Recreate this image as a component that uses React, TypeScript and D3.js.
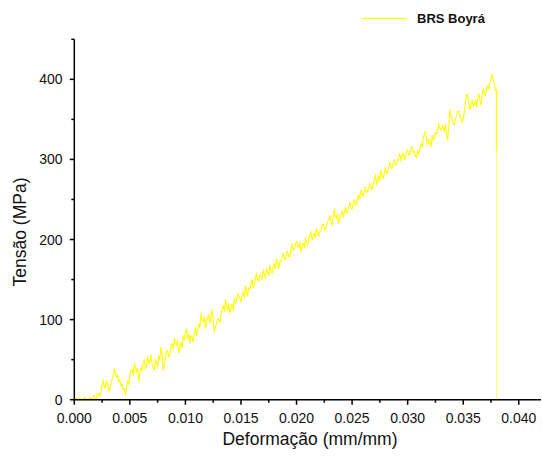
import React from "react";
import * as d3 from "d3";

// Tensile test samples, read every 0.0001 mm/mm of strain from 0 to 0.0380
const strainStep = 0.0001;
const stress: number[] = [
  0, 1, 3, 0, 0, 2, 1, 0, 0, 3,
  2, 0, 0, 1, 3, 0, 1, 4, 5, 1,
  2, 8, 6, 4, 10, 18, 25, 14, 16, 23,
  20, 10, 14, 19, 26, 30, 39, 33, 28, 31,
  22, 25, 17, 20, 12, 14, 6, 15, 24, 19,
  31, 36, 38, 30, 45, 40, 34, 39, 22, 33,
  40, 36, 45, 50, 38, 44, 54, 45, 48, 56,
  44, 40, 37, 50, 46, 41, 55, 49, 66, 58,
  37, 44, 52, 60, 62, 53, 56, 64, 70, 63,
  77, 70, 68, 74, 58, 66, 72, 64, 80, 74,
  83, 88, 76, 82, 71, 80, 78, 72, 83, 90,
  80, 87, 95, 90, 108, 100, 97, 104, 89, 98,
  102, 106, 96, 104, 112, 100, 85, 92, 94, 101,
  100, 96, 107, 113, 118, 110, 125, 117, 112, 120,
  108, 114, 119, 112, 126, 120, 125, 132, 131, 126,
  122, 130, 135, 128, 142, 136, 130, 140, 138, 145,
  150, 140, 143, 152, 158, 150, 148, 156, 155, 150,
  162, 156, 152, 163, 160, 155, 168, 162, 158, 166,
  170, 163, 176, 170, 164, 173, 172, 178, 183, 176,
  175, 182, 186, 178, 179, 188, 195, 186, 188, 194,
  198, 192, 190, 197, 184, 191, 196, 189, 202, 197,
  193, 200, 205, 210, 199, 204, 208, 202, 214, 208,
  204, 210, 212, 217, 220, 214, 211, 218, 222, 226,
  230, 222, 218, 228, 238, 230, 226, 232, 220, 227,
  232, 236, 228, 234, 240, 233, 235, 242, 246, 240,
  238, 244, 250, 243, 244, 252, 256, 250, 262, 257,
  254, 260, 266, 259, 260, 265, 270, 264, 262, 270,
  275, 281, 268, 274, 280, 273, 286, 280, 276, 284,
  290, 282, 284, 291, 296, 290, 289, 296, 300, 293,
  294, 300, 302, 308, 298, 304, 308, 300, 303, 310,
  312, 305, 306, 314, 316, 309, 310, 304, 302, 311,
  306, 313, 320, 315, 326, 332, 335, 324, 318, 325,
  322, 316, 330, 324, 326, 334, 332, 338, 345, 338,
  336, 342, 340, 335, 344, 330, 324, 343, 362, 354,
  350, 345, 343, 350, 355, 361, 360, 354, 352, 346,
  349, 360, 370, 382, 380, 370, 362, 370, 374, 366,
  368, 374, 366, 375, 382, 374, 368, 378, 389, 383,
  380, 387, 392, 388, 396, 402, 406, 400, 394, 386,
  388,
];
// Fracture: vertical drop at the final strain
const breakStrain = 0.038;
const breakStress: number[] = [388, 310, 0];

const xTicks: number[] = [0, 0.005, 0.01, 0.015, 0.02, 0.025, 0.03, 0.035, 0.04];
const xMinor: number[] = [0.0025, 0.0075, 0.0125, 0.0175, 0.0225, 0.0275, 0.0325, 0.0375];
const yTicks: number[] = [0, 100, 200, 300, 400];
const yMinor: number[] = [50, 150, 250, 350, 450];

const seriesName = "BRS Boyrá";
const xTitle = "Deformação (mm/mm)";
const yTitle = "Tensão (MPa)";

export default function App() {
  const x = d3.scaleLinear().domain([0, 0.042]).range([74.3, 541]);
  const y = d3.scaleLinear().domain([0, 450]).range([399.7, 39.3]);
  const pts = stress.map((s, i) => [i * strainStep, s] as [number, number]);
  const line = d3
    .line<[number, number]>()
    .x((d) => x(d[0]))
    .y((d) => y(d[1]));
  const dropTop: [number, number][] = [
    [breakStrain, breakStress[0]],
    [breakStrain, breakStress[1]],
  ];
  const dropTail: [number, number][] = [
    [breakStrain, breakStress[1]],
    [breakStrain, breakStress[2]],
  ];
  const fmtX = d3.format(".3f");
  const font = "'Liberation Sans', Arial, sans-serif";
  const x0 = x(0);
  const y0 = y(0);

  return (
    <svg
      width={542}
      height={456}
      style={{ position: "absolute", left: 0, top: 0, background: "#fff" }}
      fontFamily={font}
    >
      <rect width={542} height={456} fill="#fff" />
      <path d={line(pts) || ""} fill="none" stroke="#ffff00" strokeWidth={1.1} strokeLinejoin="round" />
      <path d={line(dropTop) || ""} fill="none" stroke="#ffff00" strokeWidth={1.4} />
      <path d={line(dropTail) || ""} fill="none" stroke="#ffff70" strokeWidth={1.2} />

      {/* axes */}
      <line x1={x0} x2={x0} y1={y(450)} y2={y0} stroke="#000" strokeWidth={1.5} />
      <line x1={x0} x2={x(0.042)} y1={y0} y2={y0} stroke="#000" strokeWidth={1.5} />

      {xTicks.map((t) => (
        <g key={"xt" + t}>
          <line x1={x(t)} x2={x(t)} y1={y0} y2={y0 + 5} stroke="#000" strokeWidth={1.5} />
          <text x={x(t)} y={423} textAnchor="middle" fontSize={14} fill="#111">
            {fmtX(t)}
          </text>
        </g>
      ))}
      {xMinor.map((t) => (
        <line key={"xm" + t} x1={x(t)} x2={x(t)} y1={y0} y2={y0 + 3} stroke="#000" strokeWidth={1.5} />
      ))}
      {yTicks.map((t) => (
        <g key={"yt" + t}>
          <line x1={x0 - 4.5} x2={x0} y1={y(t)} y2={y(t)} stroke="#000" strokeWidth={1.5} />
          <text x={62.5} y={y(t)} dy="0.36em" textAnchor="end" fontSize={14} fill="#111">
            {t}
          </text>
        </g>
      ))}
      {yMinor.map((t) => (
        <line key={"ym" + t} x1={x0 - 3} x2={x0} y1={y(t)} y2={y(t)} stroke="#000" strokeWidth={1.5} />
      ))}

      {/* titles */}
      <text x={310} y={445} textAnchor="middle" fontSize={17.5} fill="#111">
        {xTitle}
      </text>
      <text
        transform="translate(26,232) rotate(-90)"
        textAnchor="middle"
        fontSize={17.5}
        fill="#111"
      >
        {yTitle}
      </text>

      {/* legend */}
      <line x1={362} x2={407} y1={18.3} y2={18.3} stroke="#ffff00" strokeWidth={1.2} />
      <text x={417} y={22.6} fontSize={13} fontWeight="bold" fill="#111">
        {seriesName}
      </text>
    </svg>
  );
}
